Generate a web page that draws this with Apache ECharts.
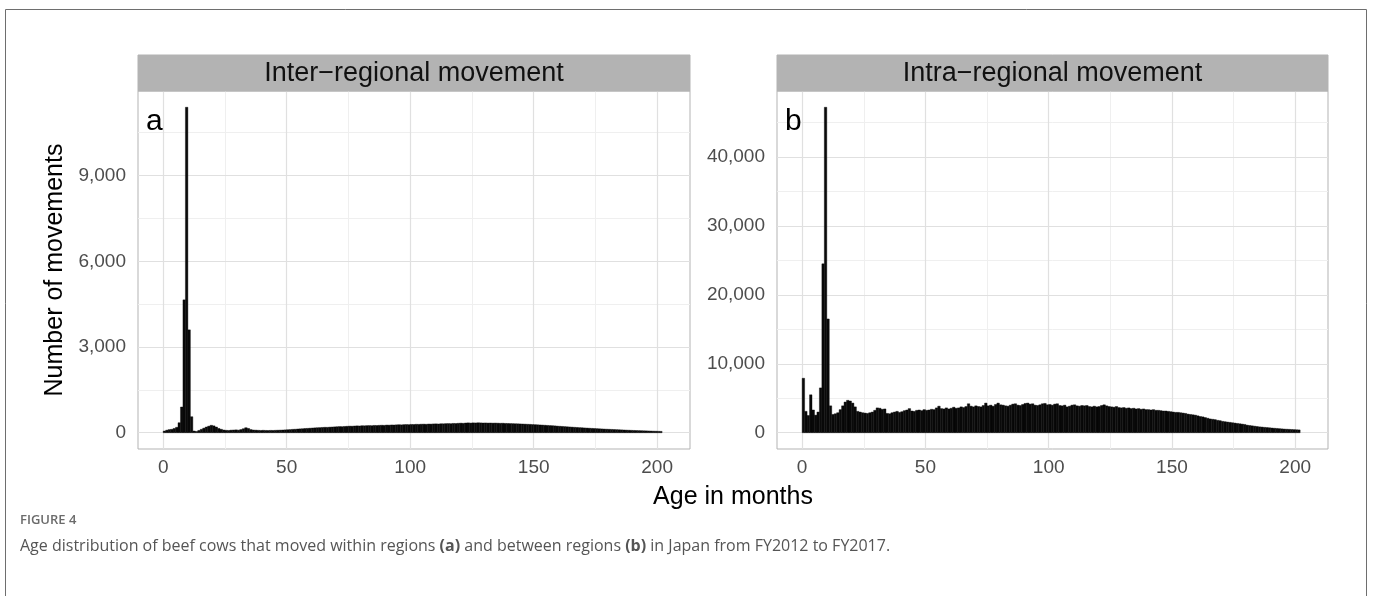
<!DOCTYPE html>
<html>
<head>
<meta charset="utf-8">
<script src="https://cdn.jsdelivr.net/npm/echarts@6/dist/echarts.min.js"></script>
<style>
html,body{margin:0;padding:0;background:#fff;}
#chart{width:1373px;height:596px;}
</style>
</head>
<body>
<div id="chart"></div>
<script>
// ---- data ----
const panelTitles = ["Inter\u2212regional movement", "Intra\u2212regional movement"];
const panelTags = ["a", "b"];
const xTicks = [0, 50, 100, 150, 200];
const xMinor = [25, 75, 125, 175];
const yTicksInter = [0, 3000, 6000, 9000];
const yMinorInter = [1500, 4500, 7500, 10500];
const yTicksIntra = [0, 10000, 20000, 30000, 40000];
const yMinorIntra = [5000, 15000, 25000, 35000, 45000];

// Number of movements per month of age (0..201), inter-regional
const interCounts = [
  60, 90, 110, 120, 150, 190, 350, 900, 4650, 11390,
  3600, 560, 60, 45, 80, 120, 160, 200, 230, 260,
  240, 200, 150, 120, 95, 85, 80, 90, 95, 100,
  90, 110, 140, 175, 150, 110, 95, 90, 85, 80,
  85, 80, 78, 82, 80, 85, 88, 92, 95, 100,
  105, 110, 118, 122, 130, 135, 140, 148, 152, 158,
  165, 170, 175, 178, 185, 190, 188, 195, 200, 205,
  210, 215, 212, 220, 225, 230, 228, 235, 240, 236,
  245, 242, 248, 250, 246, 255, 252, 258, 262, 258,
  268, 265, 272, 270, 276, 280, 275, 283, 286, 282,
  290, 288, 295, 292, 298, 300, 296, 304, 302, 308,
  310, 306, 314, 312, 318, 320, 316, 325, 322, 330,
  335, 330, 340, 345, 338, 345, 342, 348, 344, 340,
  342, 338, 340, 336, 338, 334, 330, 332, 326, 324,
  320, 318, 314, 312, 308, 305, 300, 296, 292, 286,
  282, 278, 272, 268, 262, 256, 250, 246, 240, 232,
  226, 220, 214, 208, 202, 196, 190, 184, 178, 174,
  168, 163, 158, 152, 148, 143, 138, 133, 128, 124,
  120, 116, 112, 108, 104, 100, 96, 92, 88, 84,
  80, 77, 74, 71, 68, 65, 62, 59, 56, 53,
  50, 47
];
// Number of movements per month of age (0..201), intra-regional
const intraCounts = [
  7900, 3100, 2500, 5500, 3300, 2550, 3000, 6500, 24500, 47200,
  16500, 3900, 2650, 2750, 2900, 3350, 3900, 4450, 4700, 4600,
  4300, 3750, 3100, 3000, 2900, 2850, 2800, 2900, 3000, 3250,
  3600, 3550, 3400, 3450, 2800, 2750, 2900, 3000, 3100, 2950,
  3050, 3200, 3300, 3500, 3150, 3100, 3250, 3300, 3200, 3350,
  3250, 3300, 3400, 3350, 3600, 3850, 3500, 3450, 3600, 3450,
  3550, 3700, 3550, 3600, 3750, 3650, 3800, 4200, 3850, 3750,
  3900, 3800, 3750, 3950, 4300, 3900, 4000, 3850, 4100, 4300,
  4050, 4000, 3900, 3850, 4000, 4150, 4200, 4000, 3950, 4100,
  4250, 4300, 4150, 4200, 4000, 3950, 4050, 4200, 4250, 4050,
  4100, 4000, 4150, 4200, 3950, 3900, 4000, 3750, 3850, 4000,
  4050, 3900, 3850, 3950, 3900, 3950, 3800, 3750, 3850, 3750,
  3800, 3950, 4050, 3900, 3800, 3750, 3700, 3800, 3650, 3600,
  3650, 3550, 3600, 3500, 3550, 3450, 3500, 3400, 3450, 3350,
  3350, 3300, 3350, 3250, 3250, 3200, 3150, 3150, 3100, 3050,
  3000, 2950, 2950, 2900, 2850, 2800, 2700, 2650, 2600, 2550,
  2450, 2350, 2300, 2200, 2100, 2000, 1950, 1900, 1800, 1750,
  1650, 1600, 1550, 1500, 1450, 1400, 1350, 1300, 1250, 1200,
  1100, 1050, 1000, 950, 900, 850, 820, 780, 750, 720,
  680, 650, 620, 590, 560, 530, 510, 490, 470, 450,
  430, 410
];
const ages = interCounts.map((_, i) => i);

// ---- layout ----
const FONT = "Liberation Sans, Arial, Helvetica, sans-serif";
const grids = [
  {left: 138, top: 91, width: 552, height: 358},
  {left: 777, top: 91, width: 551, height: 358}
];
const stripTop = 55;
const X_MIN = -10.2, X_MAX = 213.3;

function yRange(vals) {
  const m = Math.max(...vals);
  return [-0.05 * m, 1.05 * m];
}
const yr = [yRange(interCounts), yRange(intraCounts)];
const yTicks = [yTicksInter, yTicksIntra];
const yMinor = [yMinorInter, yMinorIntra];
const counts = [interCounts, intraCounts];

const fmt = v => v.toLocaleString('en-US');

const option = {
  animation: false,
  backgroundColor: '#ffffff',
  grid: grids.map(g => Object.assign({show: true, borderColor: '#b3b3b3', borderWidth: 1, backgroundColor: '#fff', containLabel: false}, g)),
  xAxis: [0, 1].map(i => ({
    type: 'value', gridIndex: i, min: X_MIN, max: X_MAX,
    axisLine: {show: false},
    splitLine: {show: false},
    axisTick: {show: true, customValues: xTicks, length: 6, lineStyle: {color: '#b3b3b3', width: 1}},
    axisLabel: {customValues: xTicks, color: '#4d4d4d', fontSize: 19, fontFamily: FONT, margin: 9,
      formatter: v => String(v)}
  })),
  yAxis: [0, 1].map(i => ({
    type: 'value', gridIndex: i, min: yr[i][0], max: yr[i][1],
    axisLine: {show: false},
    splitLine: {show: false},
    axisTick: {show: true, customValues: yTicks[i], length: 6, lineStyle: {color: '#b3b3b3', width: 1}},
    axisLabel: {customValues: yTicks[i], color: '#4d4d4d', fontSize: 19, fontFamily: FONT, margin: 12,
      formatter: v => fmt(v)}
  })),
  series: []
};

[0, 1].forEach(i => {
  const gridData = [];
  const minorStyle = {color: '#efefef', width: 1, type: 'solid'};
  const majorStyle = {color: '#e0e0e0', width: 1.2, type: 'solid'};
  xMinor.forEach(v => gridData.push({xAxis: v, lineStyle: minorStyle}));
  yMinor[i].forEach(v => gridData.push({yAxis: v, lineStyle: minorStyle}));
  xTicks.forEach(v => gridData.push({xAxis: v, lineStyle: majorStyle}));
  yTicks[i].forEach(v => gridData.push({yAxis: v, lineStyle: majorStyle}));
  option.series.push({
    type: 'line', xAxisIndex: i, yAxisIndex: i, data: [], z: 1, silent: true,
    markLine: {silent: true, z: 1, symbol: ['none', 'none'], label: {show: false}, animation: false,
      lineStyle: {type: 'solid'},
      emphasis: {disabled: true}, data: gridData}
  });
  option.series.push({
    type: 'custom', xAxisIndex: i, yAxisIndex: i, z: 3, silent: true,
    data: ages.map((a, k) => [a, counts[i][k]]),
    renderItem: (params, api) => {
      const x = api.value(0), v = api.value(1);
      const p0 = api.coord([x, 0]);
      const p1 = api.coord([x + 1, v]);
      return {type: 'rect',
        shape: {x: p0[0], y: p1[1], width: p1[0] - p0[0], height: p0[1] - p1[1]},
        style: {fill: '#0a0a0a', stroke: '#000', lineWidth: 0.4}};
    }
  });
});

const graphics = [
  {type: 'rect', shape: {x: 5.5, y: 9.5, width: 1361, height: 620}, style: {fill: 'none', stroke: '#6e6e6e', lineWidth: 1}, z: 0},
  {type: 'text', x: 55, y: 270, rotation: Math.PI / 2,
    style: {text: 'Number of movements', fontSize: 25, fontFamily: FONT, fill: '#000', align: 'center', verticalAlign: 'middle'}},
  {type: 'text', x: 733, y: 497,
    style: {text: 'Age in months', fontSize: 25, fontFamily: FONT, fill: '#000', align: 'center', verticalAlign: 'middle'}},
  {type: 'text', x: 20, y: 520,
    style: {text: 'FIGURE 4', fontSize: 13, fontFamily: 'Open Sans', fontWeight: 600, fill: '#6b6b6b', align: 'left', verticalAlign: 'middle'}},
  {type: 'text', x: 20, y: 546,
    style: {text: 'Age distribution of beef cows that moved within regions {b|(a)} and between regions {b|(b)} in Japan from FY2012 to FY2017.',
      fontSize: 16, fontFamily: 'Open Sans', fill: '#555', align: 'left', verticalAlign: 'middle',
      rich: {b: {fontWeight: 'bold', fontSize: 16, fontFamily: 'Open Sans', fill: '#555'}}}}
];
grids.forEach((g, i) => {
  graphics.push({type: 'rect', shape: {x: g.left, y: stripTop, width: g.width, height: g.top - stripTop},
    style: {fill: '#b3b3b3', stroke: '#b3b3b3', lineWidth: 1}, z: 5});
  graphics.push({type: 'text', x: g.left + g.width / 2, y: (stripTop + g.top) / 2 + 1, z: 6,
    style: {text: panelTitles[i], fontSize: 27, fontFamily: FONT, fill: '#111', align: 'center', verticalAlign: 'middle'}});
  graphics.push({type: 'text', x: g.left + 8, y: g.top + 31, z: 6,
    style: {text: panelTags[i], fontSize: 30, fontFamily: FONT, fill: '#000', align: 'left', verticalAlign: 'middle'}});
});
option.graphic = graphics;

const chart = echarts.init(document.getElementById('chart'), null, {renderer: 'canvas'});
chart.setOption(option);
</script>
</body>
</html>
